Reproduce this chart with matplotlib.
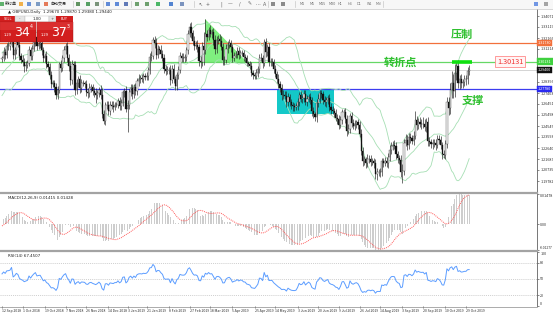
import numpy as np
import pandas as pd
import matplotlib
matplotlib.use("Agg")
import matplotlib.pyplot as plt
from matplotlib.patches import Rectangle, Polygon
from matplotlib.transforms import blended_transform_factory

plt.rcParams['font.family'] = ['Noto Sans CJK SC', 'DejaVu Sans']

# ---------------- data (GBPUSD daily closes) ----------------
warmup_closes = [
    1.3160, 1.3200, 1.3220, 1.3230, 1.3280,
    1.3270, 1.3240, 1.3225, 1.3200, 1.3230,
    1.3245, 1.3105, 1.3010, 1.2960, 1.3140,
    1.3125, 1.3155, 1.3185, 1.3110, 1.3110,
    1.3125, 1.3125, 1.3120, 1.3000, 1.2995,
    1.2935, 1.2930, 1.2890, 1.2860, 1.2765,
    1.2770, 1.2740, 1.2705, 1.2720, 1.2740,
    1.2790, 1.2900, 1.2925, 1.2815, 1.2830,
    1.2880, 1.2850, 1.2995, 1.3010, 1.2960,
    1.2880, 1.2860, 1.2940, 1.2935, 1.2920,
    1.3030, 1.3035,
]

closes = [
    1.3040, 1.3095, 1.3070,
    1.3145, 1.3150, 1.3165, 1.3260, 1.3070,
    1.3110, 1.3185, 1.3160, 1.3060, 1.3030,
    1.3010, 1.2970, 1.2985, 1.3000, 1.3110,
    1.3060, 1.3125, 1.3180, 1.3225, 1.3150,
    1.3165, 1.3170, 1.3110, 1.3040, 1.3060,
    1.2990, 1.2965, 1.2900, 1.2820, 1.2825,
    1.2790, 1.2720, 1.2770, 1.2990, 1.2960,
    1.3040, 1.3110, 1.3150, 1.3040, 1.2970,
    1.2850, 1.2990, 1.2980, 1.2770, 1.2830,
    1.2860, 1.2780, 1.2830, 1.2825, 1.2815,
    1.2750, 1.2740, 1.2780, 1.2790, 1.2760,
    1.2740, 1.2720, 1.2740, 1.2770, 1.2725,
    1.2560, 1.2495, 1.2635, 1.2640, 1.2585,
    1.2640, 1.2630, 1.2620, 1.2640, 1.2640,
    1.2675, 1.2625, 1.2650, 1.2745,
    1.2755, 1.2605, 1.2640, 1.2745,
    1.2780, 1.2730, 1.2790, 1.2755, 1.2840,
    1.2865, 1.2870, 1.2865, 1.2885, 1.2880,
    1.2890, 1.2940, 1.3050, 1.3060, 1.3200,
    1.3170, 1.3070, 1.3120, 1.3115, 1.3075,
    1.3045, 1.2950, 1.2935, 1.2940, 1.2940,
    1.2855, 1.2945, 1.2860, 1.2800, 1.2900,
    1.2940, 1.3060, 1.3045, 1.3040, 1.3050,
    1.3110, 1.3255, 1.3315, 1.3260, 1.3190,
    1.3150, 1.3160, 1.3135, 1.3015, 1.3010,
    1.3150, 1.3115, 1.3250, 1.3225, 1.3290,
    1.3255, 1.3265, 1.3200, 1.3120, 1.3200,
    1.3210, 1.3190, 1.3140, 1.3025, 1.3030,
    1.3125, 1.3160, 1.3175, 1.3135, 1.3045,
    1.3065, 1.3075, 1.3105, 1.3070, 1.3090,
    1.3085, 1.3050, 1.3045, 1.3000, 1.2990,
    1.2975, 1.2910, 1.2900, 1.2890, 1.2915,
    1.2945, 1.3045, 1.3040, 1.3000, 1.3185,
    1.3095, 1.3140, 1.3005, 1.3010, 1.3005,
    1.2945, 1.2905, 1.2865, 1.2815, 1.2780,
    1.2720, 1.2725, 1.2715, 1.2660, 1.2705,
    1.2665, 1.2635, 1.2625, 1.2620, 1.2625,
    1.2660, 1.2720, 1.2690, 1.2700, 1.2735,
    1.2665, 1.2690, 1.2710, 1.2680, 1.2585,
    1.2555, 1.2535, 1.2650, 1.2685, 1.2740,
    1.2730, 1.2680, 1.2660, 1.2680, 1.2695,
    1.2620, 1.2595, 1.2585, 1.2565, 1.2525,
    1.2515, 1.2465, 1.2505, 1.2575, 1.2580,
    1.2515, 1.2415, 1.2430, 1.2545, 1.2480,
    1.2455, 1.2475, 1.2485, 1.2460, 1.2385,
    1.2240, 1.2150, 1.2165, 1.2135, 1.2165,
    1.2170, 1.2145, 1.2155, 1.2135, 1.2035,
    1.2060, 1.2060, 1.2055, 1.2150, 1.2135,
    1.2150, 1.2135, 1.2190, 1.2245, 1.2285,
    1.2290, 1.2285, 1.2210, 1.2175, 1.2160,
    1.2055, 1.2065, 1.2310, 1.2330, 1.2290,
    1.2355, 1.2350, 1.2325, 1.2370, 1.2505,
    1.2460, 1.2490, 1.2475, 1.2470, 1.2475,
    1.2445, 1.2485, 1.2325, 1.2315, 1.2295,
    1.2310, 1.2305, 1.2290, 1.2345, 1.2330,
    1.2290, 1.2210, 1.2205, 1.2300, 1.2660,
    1.2610, 1.2770, 1.2830, 1.2760, 1.2910,
    1.2970, 1.2825, 1.2865, 1.2825, 1.2835,
    1.2860, 1.2860, 1.2935, 1.2940,
]

# upper / lower shadow lengths in pips
wick_up = [
    25, 40, 30,
    30, 35, 25, 38, 45,
    30, 25, 40, 45, 30,
    40, 35, 30, 25, 35,
    30, 35, 40, 35, 45,
    40, 30, 35, 25, 30,
    40, 30, 35, 30, 25,
    30, 35, 30, 20, 40,
    30, 40, 25, 30, 35,
    45, 40, 30, 35, 30,
    30, 40, 35, 25, 20,
    35, 30, 45, 30, 25,
    35, 40, 30, 25, 40,
    60, 30, 25, 30, 35,
    30, 35, 40, 25, 20,
    25, 30, 35, 25,
    30, 45, 40, 30,
    35, 40, 30, 35, 30,
    40, 30, 35, 25, 30,
    30, 25, 35, 40, 25,
    30, 45, 35, 30, 40,
    35, 30, 30, 35, 25,
    40, 35, 45, 30, 25,
    30, 35, 30, 40, 25,
    30, 35, 35, 40, 30,
    40, 30, 35, 30, 45,
    30, 120, 131, 40, 20,
    35, 30, 40, 45, 30,
    30, 40, 45, 30, 35,
    40, 30, 35, 25, 30,
    30, 25, 35, 30, 25,
    20, 30, 25, 25, 20,
    25, 30, 30, 25, 30,
    30, 35, 40, 30, 25,
    30, 25, 35, 30, 30,
    30, 35, 25, 40, 30,
    35, 40, 30, 45, 35,
    30, 25, 30, 25, 30,
    35, 30, 40, 25, 30,
    35, 30, 25, 30, 30,
    30, 25, 40, 50, 25,
    25, 30, 35, 30, 25,
    35, 30, 30, 25, 40,
    30, 35, 40, 30, 25,
    30, 35, 45, 25, 30,
    35, 30, 25, 30, 40,
    40, 35, 30, 25, 45,
    35, 30, 25, 20, 30,
    30, 25, 35, 30, 25,
    40, 35, 30, 45, 30,
    35, 40, 30, 25, 30,
    40, 60, 30, 55, 45,
    40, 35, 30, 45, 80,
    35, 30, 45, 40, 60,
    40, 35, 45, 30, 25,
    30, 35, 40, 35, 30,
    35, 30, 40, 30, 48,
    45, 60, 100, 75, 80,
    43, 60, 35, 40, 30,
    40, 35, 30, 40,
]
wick_dn = [
    30, 25, 35,
    25, 30, 35, 30, 35,
    35, 30, 25, 35, 30,
    35, 50, 40, 30, 25,
    35, 30, 25, 30, 40,
    30, 35, 40, 35, 30,
    35, 30, 40, 35, 30,
    40, 30, 35, 30, 35,
    30, 35, 30, 35, 40,
    40, 35, 30, 47, 35,
    35, 40, 30, 25, 30,
    35, 40, 30, 30, 35,
    30, 65, 35, 30, 40,
    40, 25, 35, 30, 35,
    35, 30, 40, 30, 25,
    30, 35, 30, 25,
    35, 30, 200, 35,
    30, 45, 35, 30, 35,
    40, 35, 30, 35, 25,
    30, 35, 35, 30, 25,
    40, 35, 30, 35, 30,
    30, 35, 40, 30, 35,
    45, 30, 35, 30, 35,
    35, 30, 40, 35, 30,
    30, 35, 30, 40, 35,
    35, 30, 40, 45, 50,
    35, 130, 40, 35, 30,
    30, 35, 40, 45, 35,
    35, 40, 30, 45, 40,
    30, 35, 30, 40, 35,
    30, 25, 30, 35, 30,
    25, 30, 35, 25, 20,
    30, 25, 35, 25, 30,
    35, 30, 25, 40, 30,
    40, 35, 30, 35, 30,
    35, 30, 40, 35, 30,
    40, 35, 30, 40, 35,
    35, 30, 40, 35, 30,
    30, 35, 30, 40, 35,
    30, 35, 30, 35, 40,
    35, 40, 45, 30, 35,
    30, 35, 30, 40, 35,
    35, 40, 30, 35, 30,
    40, 35, 30, 35, 40,
    35, 45, 30, 40, 35,
    30, 35, 40, 35, 30,
    40, 45, 35, 40, 35,
    35, 40, 30, 45, 40,
    45, 35, 40, 30, 35,
    30, 35, 40, 35, 30,
    35, 30, 40, 45, 35,
    40, 96, 35, 30, 40,
    35, 40, 30, 35, 30,
    40, 35, 30, 45, 35,
    35, 40, 45, 30, 35,
    40, 35, 45, 30, 35,
    35, 45, 30, 40, 40,
    60, 50, 70, 60, 55,
    60, 45, 50, 45, 40,
    35, 50, 40, 35,
]

date_labels = ['12 Sep 2018', '1 Oct 2018', '19 Oct 2018', '7 Nov 2018', '26 Nov 2018',
               '14 Dec 2018', '3 Jan 2019', '21 Jan 2019', '8 Feb 2019', '27 Feb 2019',
               '18 Mar 2019', '5 Apr 2019', '25 Apr 2019', '14 May 2019', '3 Jun 2019',
               '20 Jun 2019', '9 Jul 2019', '26 Jul 2019', '14 Aug 2019', '3 Sep 2019',
               '20 Sep 2019', '10 Oct 2019', '29 Oct 2019']

price_ticks = [1.34071, 1.33119, 1.32166, 1.31214, 1.28356, 1.27403,
               1.26451, 1.25498, 1.24545, 1.23593, 1.22640, 1.21687, 1.20735, 1.19782]

rsi_levels = [80, 50, 20]

resist_level = 1.31730
pivot_level = 1.30131
support_level = 1.27780
peak_price = 1.33810

# ---------------- derived series ----------------
dates = pd.bdate_range('2018-09-12', '2019-10-31').drop(
    [pd.Timestamp('2018-12-25'), pd.Timestamp('2019-01-01')])
c = np.array(closes)
n = len(c)
assert n == len(dates) == len(wick_up) == len(wick_dn)
x = np.arange(n)
o = np.r_[warmup_closes[-1], c[:-1]]
pip = 0.0001
hi = np.maximum(o, c) + np.array(wick_up) * pip
lo = np.minimum(o, c) - np.array(wick_dn) * pip

full = pd.Series(np.r_[warmup_closes, c])
w = len(warmup_closes)
mid = full.rolling(20).mean()
sd = full.rolling(20).std(ddof=0)
bb_mid = mid.values[w:]
bb_up = (mid + 2 * sd).values[w:]
bb_lo = (mid - 2 * sd).values[w:]

macd = (full.ewm(span=12, adjust=False).mean() - full.ewm(span=26, adjust=False).mean())
signal = macd.rolling(9).mean()
macd_v = macd.values[w:]
sig_v = signal.values[w:]

delta = full.diff()
gain = delta.clip(lower=0).ewm(alpha=1 / 14, adjust=False).mean()
loss = (-delta.clip(upper=0)).ewm(alpha=1 / 14, adjust=False).mean()
rsi = (100 - 100 / (1 + gain / loss)).values[w:]

# ---------------- figure ----------------
W, H = 553, 315
fig = plt.figure(figsize=(W / 100, H / 100), dpi=100)
fig.patch.set_facecolor('white')


def px_rect(x0, y0, x1, y1):
    return [x0 / W, 1 - y1 / H, (x1 - x0) / W, (y1 - y0) / H]


ax = fig.add_axes(px_rect(0, 9, 537, 192))
ax_m = fig.add_axes(px_rect(0, 194, 537, 250))
ax_r = fig.add_axes(px_rect(0, 252, 537, 306))

px_per_bar = 1.589
xlim = (-2 / px_per_bar, -2 / px_per_bar + 537 / px_per_bar)
pp = 0.000866  # price per pixel
ylim_main = (pivot_level - (192 - 61.5) * pp, pivot_level + (61.5 - 9) * pp)

LBL = 2.7
for a in (ax, ax_m, ax_r):
    a.set_xlim(*xlim)
    a.set_facecolor('white')
    for s in ('left', 'top', 'bottom'):
        a.spines[s].set_visible(False)
    a.spines['right'].set_color('#606060')
    a.spines['right'].set_linewidth(0.6)
    a.yaxis.tick_right()
    a.tick_params(axis='y', labelsize=LBL, length=1.6, width=0.4, pad=0.8, colors='#303030')
    a.tick_params(axis='x', bottom=False, labelbottom=False)

# ----- main price panel -----
ax.set_ylim(*ylim_main)
ax.set_yticks(price_ticks)
ax.set_yticklabels([f'{v:.5f}' for v in price_ticks])

# background objects
tri_i0 = dates.get_loc(pd.Timestamp('2019-03-13'))
tri_i1 = dates.get_loc(pd.Timestamp('2019-04-18'))
ax.add_patch(Polygon([[tri_i0, peak_price], [tri_i0, pivot_level], [tri_i1, pivot_level]],
                     closed=True, facecolor='#7ff07f', edgecolor='none', zorder=1))
box_i0 = dates.get_loc(pd.Timestamp('2019-05-15'))
box_i1 = dates.get_loc(pd.Timestamp('2019-07-04'))
ax.add_patch(Rectangle((box_i0, 1.2558), box_i1 - box_i0, support_level - 1.2558,
                       facecolor='#14c8c8', edgecolor='none', zorder=1))

ax.axhline(resist_level, color='#f2703c', lw=0.9, zorder=2)
ax.axhline(pivot_level, color='#66d866', lw=0.9, zorder=2)
ax.axhline(c[-1], color='#d4d4d4', lw=0.7, zorder=2)
ax.axhline(support_level, color='#3c3cf0', lw=0.9, zorder=2)

# bollinger bands
for band in (bb_up, bb_mid, bb_lo):
    ax.plot(x, band, color='#a6dfb4', lw=0.6, zorder=3)

# candles
ax.vlines(x, lo, hi, color='#202020', lw=0.45, zorder=4)
bull = c >= o
ax.bar(x[bull], (c - o)[bull], bottom=o[bull], width=0.75, color='#f4f4f4',
       edgecolor='#303030', lw=0.25, zorder=5)
ax.bar(x[~bull], (o - c)[~bull], bottom=c[~bull], width=0.75, color='#111111',
       edgecolor='#111111', lw=0.25, zorder=5)

# thick green segment on pivot line
seg_i0 = dates.get_loc(pd.Timestamp('2019-10-16'))
ax.plot([seg_i0, seg_i0 + 13], [pivot_level, pivot_level], color='#10e010', lw=2.6,
        solid_capstyle='butt', zorder=6)

# chinese annotations
txt_kw = dict(color='#2fc02f', fontsize=8, fontweight='bold', ha='center', va='center',
              family=['Noto Sans CJK SC', 'DejaVu Sans'], zorder=8)
ax.text(289.5, 1.3251, '压制', **txt_kw)
ax.text(251.0, 1.3005, '转折点', **txt_kw)
ax.text(296.5, 1.2680, '支撑', **txt_kw)

trans = blended_transform_factory(ax.transAxes, ax.transData)
ax.text(510 / 537, pivot_level, '1.30131', transform=trans, ha='center', va='center',
        fontsize=5.2, color='#f03030', zorder=9,
        bbox=dict(boxstyle='square,pad=0.2', facecolor='#fff4f4', edgecolor='#ff8a8a', lw=0.6))

# coloured price tags on the axis
for lvl, col in ((resist_level, '#f2703c'), (pivot_level, '#3fd03f'),
                 (c[-1], '#101010'), (support_level, '#2a2af0')):
    ax.text(1.0015, lvl, f'{lvl:.5f}', transform=trans, ha='left', va='center', fontsize=LBL,
            color='white', clip_on=False, zorder=10,
            bbox=dict(boxstyle='square,pad=0.3', facecolor=col, edgecolor=col, lw=0.3))

ax.text(4, ylim_main[1] - 2.5 * pp, '▲ GBPUSD,Daily  1.29670 1.29870 1.29380 1.29440',
        fontsize=2.9, color='#202020', ha='left', va='center', zorder=9,
        family=['DejaVu Sans'])

# ----- MACD panel -----
m_lo = min(np.nanmin(macd_v), np.nanmin(sig_v))
m_hi = max(np.nanmax(macd_v), np.nanmax(sig_v))
ax_m.set_ylim(m_lo, m_hi)
ax_m.bar(x, macd_v, width=0.5, color='#cdcdcd', zorder=2)
ax_m.plot(x, sig_v, color='#ff5a5a', lw=0.7, linestyle=(0, (1, 1)), zorder=3)
ax_m.set_yticks([m_hi, 0, m_lo])
ax_m.set_yticklabels([f'{m_hi:.5f}', '0.00', f'{m_lo:.5f}'])
ax_m.get_yticklabels()[0].set_va('top')
ax_m.get_yticklabels()[2].set_va('bottom')
ax_m.get_yticklabels()[2].set_fontsize(2.4)
ax_m.text(4, m_hi - (m_hi - m_lo) * 0.07,
          f'MACD(12,26,9) {macd_v[-1]:.5f} {sig_v[-1]:.5f}',
          fontsize=2.9, color='#202020', ha='left', va='center', family=['DejaVu Sans'])

# ----- RSI panel -----
ax_r.set_ylim(0, 100)
for lv in rsi_levels:
    ax_r.axhline(lv, color='#bdbdbd', lw=0.5, linestyle=(0, (1.5, 1.5)), zorder=1)
ax_r.plot(x, rsi, color='#5c9dff', lw=0.7, zorder=3)
ax_r.set_yticks([100] + rsi_levels + [0])
ax_r.set_yticklabels([str(v) for v in [100] + rsi_levels + [0]])
ax_r.get_yticklabels()[0].set_va('top')
ax_r.get_yticklabels()[-1].set_va('bottom')
ax_r.text(4, 93, f'RSI(14) {rsi[-1]:.4f}', fontsize=2.9, color='#202020', ha='left',
          va='center', family=['DejaVu Sans'])

tick_pos = [dates.get_loc(pd.Timestamp(d)) for d in date_labels]
ax_r.set_xticks(tick_pos)
ax_r.set_xticklabels(date_labels, ha='left')
ax_r.tick_params(axis='x', bottom=True, labelbottom=True, labelsize=2.5, length=1.5,
                 width=0.4, pad=0.8, colors='#303030')

# ----- overlay: toolbar, separators, one-click panel -----
ov = fig.add_axes([0, 0, 1, 1], zorder=20)
ov.set_xlim(0, W)
ov.set_ylim(H, 0)
ov.axis('off')
ov.patch.set_alpha(0)

ov.add_patch(Rectangle((0, 0), W, 8.6, facecolor='#f7f7f7', edgecolor='none'))
ov.plot([0, W], [8.8, 8.8], color='#c8c8c8', lw=0.5)
ov.plot([0, 537], [192.8, 192.8], color='#a3a3a3', lw=1.6)
ov.plot([0, 537], [250.8, 250.8], color='#a3a3a3', lw=1.6)
ov.plot([0, 537], [306.5, 306.5], color='#8a8a8a', lw=0.5)

icon_x = [2, 21, 29, 38, 46, 78, 88, 97, 108, 117, 126, 137, 147, 158, 171, 182, 273, 283, 536, 546]
icon_c = ['#3aa04a', '#f0a020', '#4a7bd0', '#5f86b8', '#e05a30', '#3c7a3c', '#2f8a3f', '#5a7a5a',
          '#3b6fd0', '#3b6fd0', '#3a5aa8', '#4c8a4c', '#4c8a4c', '#23a844', '#2a68c8', '#5c7ab0',
          '#707070', '#707070', '#4f7fe0', '#909090']
for ix, ic in zip(icon_x, icon_c):
    ov.add_patch(Rectangle((ix - 2.0, 2.2), 4.0, 4.0, facecolor=ic, edgecolor='none', alpha=0.8))
for sx in (73, 103, 131, 194, 268, 295, 383):
    ov.plot([sx, sx], [1.2, 7.4], color='#c8c8c8', lw=0.5)
ov.text(5, 4.3, '新订单', fontsize=2.9, va='center', ha='left', color='#202020')
ov.text(50, 4.3, '自动交易', fontsize=2.9, va='center', ha='left', color='#202020')
for k, sym in enumerate(['↖', '+', '|', '—', '/', '✎', '⋯', 'A']):
    ov.text([200, 208, 221, 230, 240, 250, 258, 265][k], 4.3, sym, fontsize=3.4,
            ha='center', va='center', color='#606060', family=['DejaVu Sans'])
for k, per in enumerate(['M1', 'M5', 'M15', 'M30', 'H1', 'H4', 'D1', 'W1', 'MN']):
    ov.text(300 + k * 9.5, 4.3, per, fontsize=2.4, ha='left', va='center', color='#707070',
            family=['DejaVu Sans'])

# one-click trading panel
red = '#d21e1e'
ov.add_patch(Rectangle((0, 15.5), 15, 6.5, facecolor=red, edgecolor='none'))
ov.add_patch(Rectangle((15, 15.5), 10, 6.5, facecolor='#e6e6e6', edgecolor='#bbbbbb', lw=0.3))
ov.add_patch(Rectangle((25, 15.5), 24, 6.5, facecolor='white', edgecolor='#bbbbbb', lw=0.3))
ov.add_patch(Rectangle((49, 15.5), 7, 6.5, facecolor='#e6e6e6', edgecolor='#bbbbbb', lw=0.3))
ov.add_patch(Rectangle((56, 15.5), 17, 6.5, facecolor=red, edgecolor='none'))
ov.text(7.5, 18.8, 'SELL', fontsize=2.5, color='white', ha='center', va='center', family=['DejaVu Sans'])
ov.text(64.5, 18.8, 'BUY', fontsize=2.5, color='white', ha='center', va='center', family=['DejaVu Sans'])
ov.text(20, 18.8, '-', fontsize=3, color='#555555', ha='center', va='center', family=['DejaVu Sans'])
ov.text(52.5, 18.8, '+', fontsize=3, color='#555555', ha='center', va='center', family=['DejaVu Sans'])
ov.text(37, 18.8, '1.00', fontsize=2.8, color='#202020', ha='center', va='center', family=['DejaVu Sans'])
for bx in (0, 37):
    ov.add_patch(Rectangle((bx, 22), 36, 20, facecolor=red, edgecolor='#a01010', lw=0.3))
    ov.add_patch(Rectangle((bx, 22), 36, 8, facecolor='#e03a3a', edgecolor='none', alpha=0.6))
for bx, big, sup in ((0, '34', '4'), (37, '37', '3')):
    ov.text(bx + 4, 35.5, '1.29', fontsize=2.6, color='white', ha='left', va='center', family=['DejaVu Sans'])
    ov.text(bx + 14, 32.5, big, fontsize=9, color='white', ha='left', va='center', family=['DejaVu Sans'])
    ov.text(bx + 29.5, 27, sup, fontsize=3.4, color='white', ha='left', va='center', family=['DejaVu Sans'])

fig.savefig('out.png', dpi=100, facecolor='white')
